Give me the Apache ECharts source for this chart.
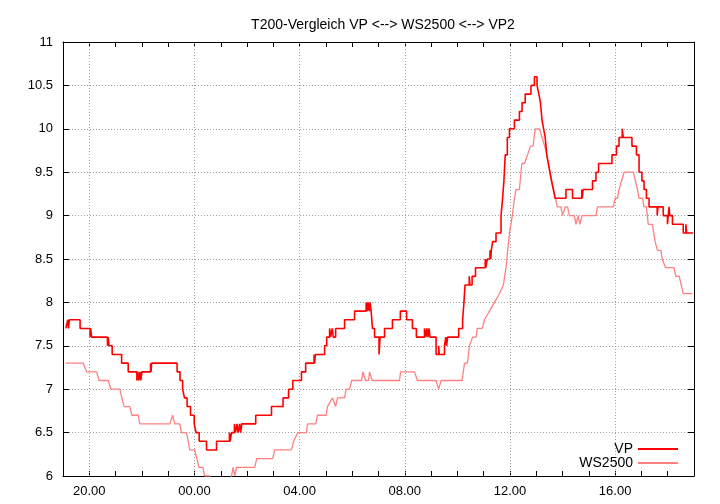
<!DOCTYPE html>
<html>
<head>
<meta charset="utf-8">
<script src="https://cdn.jsdelivr.net/npm/echarts@6/dist/echarts.min.js"></script>
<style>
  html, body { margin: 0; background: #fff; }
  #chart { width: 720px; height: 504px; }
</style>
</head>
<body>
<div id="chart"></div>
<script>
// x values are clock hours, continuing past midnight (24 = 00.00, 28 = 04.00 ...)
const xMin = 19;
const xMax = 43;
const gridHours = [20, 24, 28, 32, 36, 40];
const yTicks = [6, 6.5, 7, 7.5, 8, 8.5, 9, 9.5, 10, 10.5, 11];

// VP: value holds from its time until the next one (step line)
const vpTime = [
  19.11, 19.18, 19.21, 19.24, 19.65, 20.03, 20.05, 20.09, 20.69, 20.72, 20.75, 20.87,
  21.23, 21.48, 21.81, 21.85, 21.88, 21.93, 21.96, 22.00, 22.33, 22.35, 22.37, 23.34,
  23.45, 23.55, 23.62, 23.72, 23.85, 23.99, 24.06, 24.18, 24.46, 24.84, 25.33, 25.36,
  25.41, 25.52, 25.56, 25.62, 25.66, 25.72, 25.76, 25.80, 26.33, 26.93, 27.37, 27.58,
  27.74, 28.07, 28.23, 28.55, 28.57, 28.60, 28.95, 29.03, 29.14, 29.18, 29.24, 29.28,
  29.37, 29.71, 30.09, 30.53, 30.57, 30.60, 30.65, 30.68, 30.72, 30.77, 30.85, 31.02,
  31.06, 31.23, 31.53, 31.83, 32.07, 32.29, 32.44, 32.75, 32.80, 32.84, 32.88, 32.92,
  32.96, 33.19, 33.29, 33.31, 33.51, 33.56, 33.59, 33.63, 34.05, 34.20, 34.25, 34.29,
  34.45, 34.48, 34.56, 34.69, 35.06, 35.08, 35.14, 35.24, 35.27, 35.29, 35.34, 35.47,
  35.66, 35.72, 35.77, 35.82, 35.90, 35.98, 36.17, 36.36, 36.46, 36.58, 36.80, 36.93,
  37.03, 37.10, 37.16, 37.22, 37.28, 37.34, 37.40, 37.46, 37.52, 37.58, 37.65, 37.72,
  38.13, 38.38, 38.73, 38.75, 38.78, 39.14, 39.27, 39.37, 39.88, 40.05, 40.15, 40.27,
  40.31, 40.64, 40.81, 40.91, 41.02, 41.10, 41.19, 41.29, 41.60, 41.63, 41.83, 41.99,
  42.02, 42.05, 42.08, 42.18, 42.59, 42.69, 42.72, 42.97
];
const vpValue = [
  7.7, 7.8, 7.7, 7.8, 7.7, 7.6, 7.7, 7.6, 7.5, 7.6, 7.5, 7.4,
  7.3, 7.2, 7.1, 7.2, 7.1, 7.2, 7.1, 7.2, 7.3, 7.2, 7.3, 7.2,
  7.1, 7.0, 6.9, 6.8, 6.7, 6.6, 6.5, 6.4, 6.3, 6.4, 6.5, 6.4,
  6.5, 6.6, 6.5, 6.6, 6.5, 6.6, 6.5, 6.6, 6.7, 6.8, 6.9, 7.0,
  7.1, 7.2, 7.3, 7.4, 7.3, 7.4, 7.5, 7.6, 7.7, 7.6, 7.7, 7.6,
  7.7, 7.8, 7.9, 8.0, 7.9, 8.0, 7.9, 8.0, 7.9, 7.7, 7.6, 7.4,
  7.6, 7.7, 7.8, 7.9, 7.8, 7.7, 7.6, 7.7, 7.6, 7.7, 7.6, 7.7,
  7.6, 7.4, 7.5, 7.4, 7.5, 7.6, 7.5, 7.6, 7.7, 7.8, 8.0, 8.2,
  8.3, 8.2, 8.3, 8.4, 8.5, 8.4, 8.5, 8.6, 8.5, 8.6, 8.7, 8.8,
  9.0, 9.2, 9.4, 9.7, 9.9, 10.0, 10.1, 10.2, 10.3, 10.4, 10.5, 10.6,
  10.5, 10.4, 10.3, 10.1, 10.0, 9.9, 9.7, 9.6, 9.5, 9.4, 9.3, 9.2,
  9.3, 9.2, 9.3, 9.2, 9.3, 9.4, 9.5, 9.6, 9.7, 9.8, 9.9, 10.0,
  9.9, 9.8, 9.7, 9.5, 9.4, 9.3, 9.2, 9.1, 9.0, 9.1, 9.0, 8.9,
  9.0, 9.1, 9.0, 8.9, 8.8, 8.9, 8.8, 8.8
];

// WS2500: fewer readings, joined by straight segments
const wsTime = [
  19.11, 19.77, 19.90, 20.28, 20.37, 20.72, 20.82, 21.16, 21.32, 21.54, 21.62, 21.86,
  21.92, 23.06, 23.17, 23.25, 23.44, 23.51, 23.70, 23.82, 24.01, 24.09, 24.17, 24.32,
  24.39, 24.58, 24.66, 25.34, 25.41, 25.47, 25.53, 25.60, 25.65, 26.29, 26.37, 26.98,
  27.05, 27.69, 27.77, 27.93, 28.26, 28.30, 28.61, 28.68, 29.01, 29.06, 29.25, 29.37,
  29.44, 29.71, 29.77, 29.90, 29.98, 30.36, 30.40, 30.51, 30.62, 30.66, 30.76, 31.80,
  31.84, 32.37, 32.48, 33.19, 33.29, 33.38, 34.18, 34.27, 34.38, 34.46, 34.58, 34.71,
  34.76, 34.95, 35.03, 35.22, 35.41, 35.60, 35.75, 35.85, 35.98, 36.09, 36.17, 36.23,
  36.36, 36.45, 36.55, 36.67, 36.78, 36.88, 36.96, 37.12, 37.37, 37.59, 37.80, 37.94,
  38.00, 38.10, 38.19, 38.26, 38.45, 38.51, 38.59, 38.66, 38.74, 39.27, 39.33, 39.93,
  40.00, 40.09, 40.15, 40.34, 40.69, 40.85, 40.91, 41.04, 41.10, 41.19, 41.26, 41.42,
  41.52, 41.61, 41.74, 41.79, 41.86, 41.92, 42.24, 42.31, 42.44, 42.59, 42.94
];
const wsValue = [
  7.3, 7.3, 7.2, 7.2, 7.1, 7.1, 7.0, 7.0, 6.8, 6.8, 6.7, 6.7,
  6.6, 6.6, 6.7, 6.6, 6.6, 6.5, 6.5, 6.3, 6.3, 6.2, 6.1, 6.1,
  6.0, 6.0, 5.9, 5.9, 6.0, 6.1, 6.0, 6.1, 6.1, 6.1, 6.2, 6.2,
  6.3, 6.3, 6.4, 6.5, 6.5, 6.6, 6.6, 6.7, 6.7, 6.8, 6.9, 6.8,
  6.9, 6.9, 7.0, 7.0, 7.1, 7.1, 7.2, 7.1, 7.1, 7.2, 7.1, 7.1,
  7.2, 7.2, 7.1, 7.1, 7.0, 7.1, 7.1, 7.3, 7.3, 7.5, 7.6, 7.6,
  7.7, 7.7, 7.8, 7.9, 8.0, 8.1, 8.2, 8.4, 8.8, 9.0, 9.2, 9.3,
  9.3, 9.6, 9.6, 9.7, 9.8, 9.8, 10.0, 10.0, 9.75, 9.4, 9.1, 9.1,
  9.0, 9.1, 9.1, 9.0, 9.0, 8.9, 9.0, 8.9, 9.0, 9.0, 9.1, 9.1,
  9.2, 9.2, 9.3, 9.5, 9.5, 9.3, 9.2, 9.2, 9.1, 9.1, 8.9, 8.9,
  8.7, 8.6, 8.6, 8.5, 8.5, 8.4, 8.4, 8.3, 8.3, 8.1, 8.1
];

const vpData = vpTime.map((t, i) => [t, vpValue[i]]);
const wsData = wsTime.map((t, i) => [t, wsValue[i]]);

const fontFamily = '"Liberation Sans", Arial, sans-serif';

const hourLabel = (v) => {
  if (v % 4 !== 0) return '';
  const h = v % 24;
  return (h < 10 ? '0' + h : '' + h) + '.00';
};

const chart = echarts.init(document.getElementById('chart'));

const xCommon = {
  type: 'value',
  min: xMin,
  max: xMax,
  interval: 1,
  axisLine: { show: true, onZero: false, lineStyle: { color: '#000', width: 1 } },
  axisTick: { show: true, inside: true, length: 5, lineStyle: { color: '#000' } },
  splitLine: { show: false }
};
const yCommon = {
  type: 'value',
  min: yTicks[0],
  max: yTicks[yTicks.length - 1],
  interval: 0.5,
  axisLine: { show: true, onZero: false, lineStyle: { color: '#000', width: 1 } },
  axisTick: { show: true, inside: true, length: 6, lineStyle: { color: '#000' } }
};

const option = {
  animation: false,
  backgroundColor: '#fff',
  textStyle: { fontFamily: fontFamily },
  title: {
    text: 'T200-Vergleich VP <--> WS2500 <--> VP2',
    left: 378,
    textAlign: 'center',
    top: 13,
    textStyle: { fontSize: 14, fontWeight: 'normal', color: '#000', fontFamily: fontFamily }
  },
  legend: {
    orient: 'vertical',
    right: 37,
    top: 437,
    align: 'right',
    icon: 'rect',
    itemWidth: 40,
    itemHeight: 2,
    itemGap: 0,
    textStyle: { fontSize: 14, lineHeight: 14, color: '#000', fontFamily: fontFamily },
    data: ['VP', 'WS2500']
  },
  grid: { left: 63, right: 26, top: 42, bottom: 28, containLabel: false },
  xAxis: [
    Object.assign({}, xCommon, {
      position: 'bottom',
      axisLabel: { formatter: hourLabel, color: '#000', fontSize: 13, margin: 9 }
    }),
    Object.assign({}, xCommon, {
      position: 'top',
      axisLabel: { show: false }
    })
  ],
  yAxis: [
    Object.assign({}, yCommon, {
      position: 'left',
      axisLabel: { color: '#000', fontSize: 13, margin: 10 },
      splitLine: { show: true, lineStyle: { color: '#a0a0a0', type: [1, 2], width: 1 } }
    }),
    Object.assign({}, yCommon, {
      position: 'right',
      axisLabel: { show: false },
      splitLine: { show: false }
    })
  ],
  series: [
    {
      name: 'WS2500',
      type: 'line',
      data: wsData,
      symbol: 'none',
      clip: true,
      lineStyle: { color: '#ff8080', width: 1.3 },
      itemStyle: { color: '#ff8080' },
      z: 3
    },
    {
      name: 'VP',
      type: 'line',
      data: vpData,
      step: 'end',
      symbol: 'none',
      clip: true,
      lineStyle: { color: '#ff0000', width: 1.6 },
      itemStyle: { color: '#ff0000' },
      z: 4,
      markLine: {
        silent: true,
        symbol: 'none',
        label: { show: false },
        lineStyle: { color: '#a0a0a0', type: [1, 2], width: 1 },
        data: gridHours.map((h) => ({ xAxis: h })),
        z: 1
      }
    }
  ]
};

chart.setOption(option);
</script>
</body>
</html>
